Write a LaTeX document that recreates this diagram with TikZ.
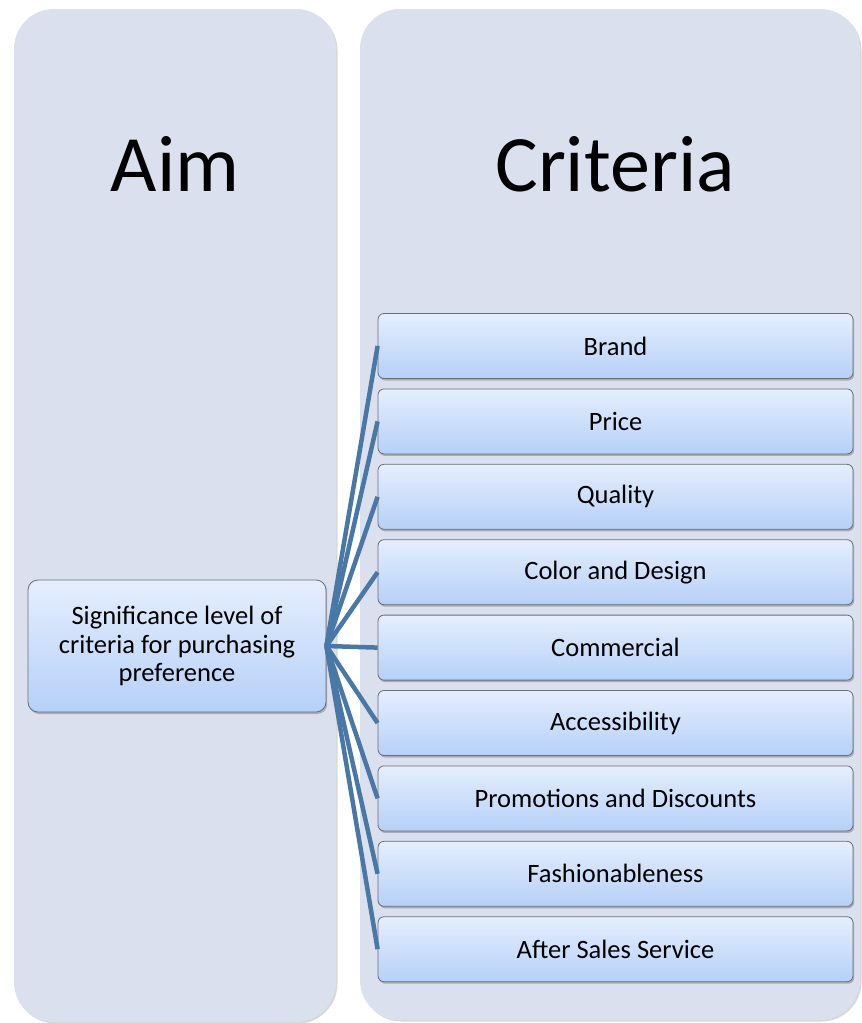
\documentclass[tikz,border=0pt]{standalone}
\usepackage{fontspec}
\setmainfont{Carlito}
\usetikzlibrary{shadows}
\definecolor{panelfill}{HTML}{DAE0ED}
\definecolor{boxtop}{HTML}{E5EEFD}
\definecolor{boxbot}{HTML}{B6D0F8}
\definecolor{boxline}{HTML}{6A6E76}
\definecolor{linkcol}{HTML}{4A78A6}
\tikzset{
  x=1pt, y=-1pt,
  panel/.style={fill=panelfill, rounded corners=40pt,
    drop shadow={shadow xshift=1.5pt, shadow yshift=-1.5pt, opacity=0.25, fill=black!60}},
  title/.style={font=\fontsize{80}{92}\selectfont, text=black},
  cbox/.style={draw=boxline, line width=0.8pt, rounded corners=6pt,
    top color=boxtop, bottom color=boxbot, minimum width=475pt, minimum height=65pt,
    font=\fontsize{26.5}{29}\selectfont, inner sep=0pt,
    drop shadow={shadow xshift=1.2pt, shadow yshift=-2pt, opacity=0.35, fill=black!70}},
  abox/.style={draw=boxline, line width=0.8pt, rounded corners=10pt,
    top color=boxtop, bottom color=boxbot, minimum width=298pt, minimum height=132pt,
    font=\fontsize{26.5}{28.5}\selectfont, align=center, inner sep=0pt,
    drop shadow={shadow xshift=1.2pt, shadow yshift=-2pt, opacity=0.35, fill=black!70}},
  link/.style={draw=linkcol, line width=4.5pt}
}
\begin{document}
\begin{tikzpicture}
\useasboundingbox (0,0) rectangle (862,1023);
\fill[white] (0,0) rectangle (862,1023);
% panels
\path[panel] (14,9) rectangle (336,1022);
\path[panel] (360,9) rectangle (860,1020);
\node[title] (aimt) at (175,164) {Aim};
\node[title] (crit) at (615,164) {Criteria};
% aim box
\node[abox] (aim) at (177,646) {Significance level of\\criteria for purchasing\\preference};
% criteria boxes
\foreach \t [count=\i] in {Brand,Price,Quality,Color and Design,Commercial,Accessibility,Promotions and Discounts,Fashionableness,After Sales Service}{
  \node[cbox] (c\i) at (615.5,{346+75.4*(\i-1)}) {\t};
}
\foreach \i in {1,...,9}{
  \draw[link] (aim.east) -- (c\i.west);
}
\end{tikzpicture}
\end{document}
